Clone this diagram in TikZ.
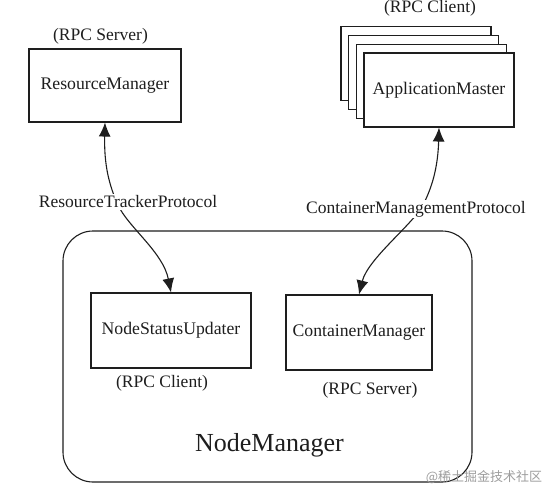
\documentclass[tikz,border=0pt]{standalone}
\usepackage{fontspec}
\setmainfont{Liberation Serif}
\newfontfamily\cjkfont{Noto Sans CJK SC}
\usetikzlibrary{arrows.meta}
\definecolor{ink}{RGB}{30,30,30}
\tikzset{
  box/.style={draw=ink, line width=1.1pt, fill=white, inner sep=0pt, text=ink,
    font=\fontsize{17.7}{20}\selectfont},
  lbl/.style={inner sep=0pt, text=ink, font=\fontsize{17.5}{20}\selectfont},
  plbl/.style={inner sep=1.5pt, fill=white, text=ink, font=\fontsize{17.5}{20}\selectfont},
  conn/.style={draw=ink, line width=1.1pt, {Latex[length=14pt,width=12pt]}-{Latex[length=14pt,width=12pt]}},
}
\begin{document}
\begin{tikzpicture}[x=1pt, y=-1pt]
\useasboundingbox[fill=white] (0,0) rectangle (550,498);
% NodeManager container
\node[draw=ink, line width=1.1pt, rounded corners=30pt, minimum width=409pt, minimum height=251pt, inner sep=0pt] (nm) at (267.5,356.5) {};
\node[lbl, font=\fontsize{26}{30}\selectfont] (nmlbl) at (269.5,445) {NodeManager};
% ResourceManager
\node[box, minimum width=152pt, minimum height=73pt] (rm) at (105,85.5) {ResourceManager};
\node[lbl] (rmrole) at (100.5,36) {(RPC Server)};
% ApplicationMaster stack
\node[box, minimum width=150pt, minimum height=74pt] (am3) at (416,63.5) {};
\node[box, minimum width=150pt, minimum height=74pt] (am2) at (423.7,72.3) {};
\node[box, minimum width=150pt, minimum height=74pt] (am1) at (431.3,81.2) {};
\node[box, minimum width=150pt, minimum height=74pt] (am) at (439,90) {ApplicationMaster};
\node[lbl] (amrole) at (430,8) {(RPC Client)};
% inner boxes
\node[box, minimum width=160pt, minimum height=75pt] (nsu) at (171,330.5) {NodeStatusUpdater};
\node[lbl] (nsurole) at (162,383) {(RPC Client)};
\node[box, minimum width=146pt, minimum height=75pt] (cm) at (359,332.5) {ContainerManager};
\node[lbl] (cmrole) at (370,390) {(RPC Server)};
% connectors
\draw[conn] (rm.south) .. controls (104,165) and (109,185) .. (118,205)
  .. controls (128,227) and (163,252) .. (nsu.north);
\draw[conn] (am.south) .. controls (438,165) and (433,185) .. (424,203)
  .. controls (416,222) and (368,258) .. (cm.north);
\node[plbl] (rtp) at (128,202) {ResourceTrackerProtocol};
\node[plbl] (cmp) at (416,209) {ContainerManagementProtocol};
% watermark
\node[inner sep=0pt, text=black!38, font=\cjkfont\fontsize{13}{15}\selectfont] (wm) at (484,477) {@稀土掘金技术社区};
\end{tikzpicture}
\end{document}
